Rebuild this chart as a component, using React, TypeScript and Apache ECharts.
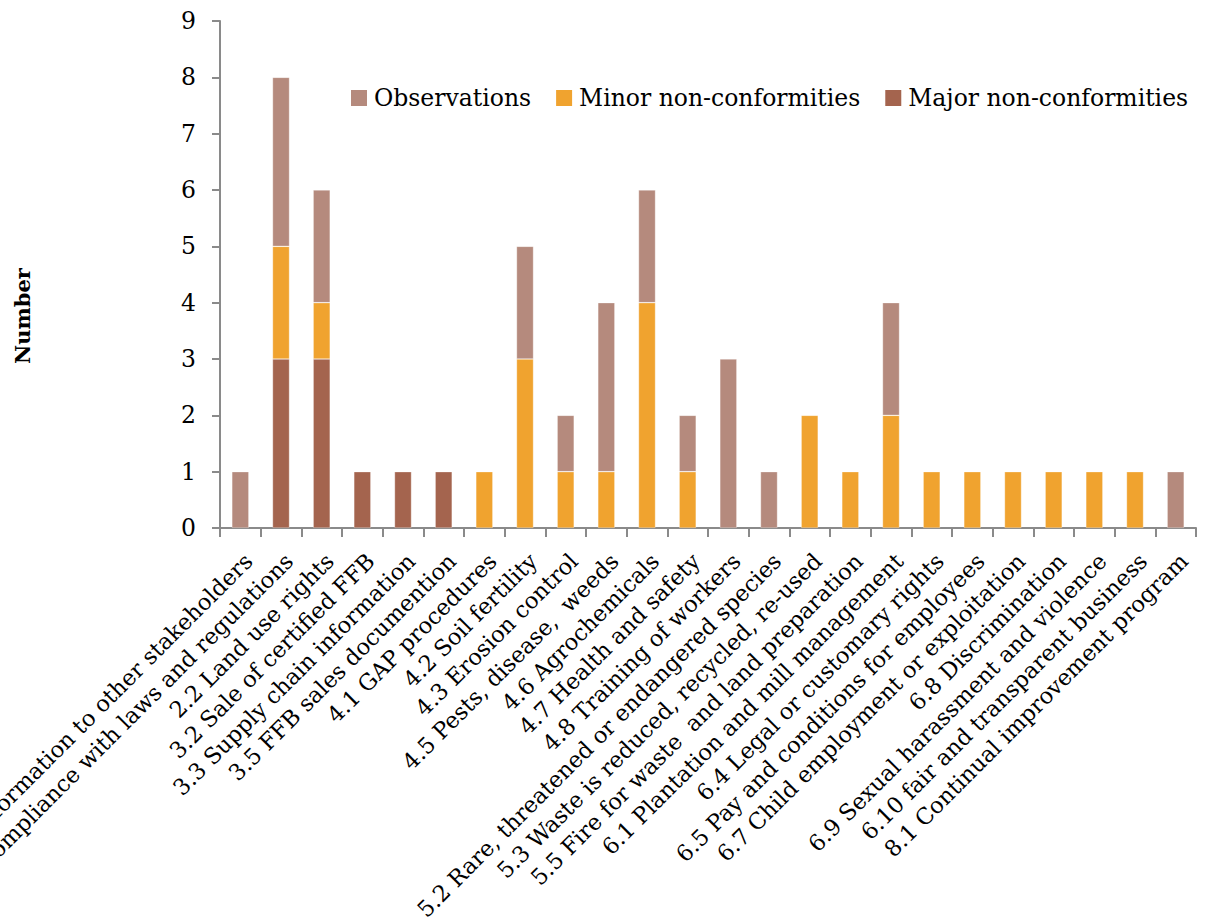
import React, { useEffect, useRef } from "react";
import * as echarts from "echarts";

const categories = [
  "1.1 Information to other stakeholders",
  "2.1 Compliance with laws and regulations",
  "2.2 Land use rights",
  "3.2 Sale of certified FFB",
  "3.3 Supply chain information",
  "3.5 FFB sales documention",
  "4.1 GAP procedures",
  "4.2 Soil fertility",
  "4.3 Erosion control",
  "4.5 Pests, disease,  weeds",
  "4.6 Agrochemicals",
  "4.7 Health and safety",
  "4.8 Training of workers",
  "5.2 Rare, threatened or endangered species",
  "5.3 Waste is reduced, recycled, re-used",
  "5.5 Fire for waste  and land preparation",
  "6.1 Plantation and mill management",
  "6.4 Legal or customary rights",
  "6.5 Pay and conditions for employees",
  "6.7 Child employment or exploitation",
  "6.8 Discrimination",
  "6.9 Sexual harassment and violence",
  "6.10 fair and transparent business",
  "8.1 Continual improvement program",
];

const majorNC = [0, 3, 3, 1, 1, 1, 0, 0, 0, 0, 0, 0, 0, 0, 0, 0, 0, 0, 0, 0, 0, 0, 0, 0];
const minorNC = [0, 2, 1, 0, 0, 0, 1, 3, 1, 1, 4, 1, 0, 0, 2, 1, 2, 1, 1, 1, 1, 1, 1, 0];
const observations = [1, 3, 2, 0, 0, 0, 0, 2, 1, 3, 2, 1, 3, 1, 0, 0, 2, 0, 0, 0, 0, 0, 0, 1];

const yTicks = { min: 0, max: 9, interval: 1 };

const FONT = "'Palatino Linotype', 'Book Antiqua', Palatino, 'DejaVu Serif', serif";

export default function App() {
  const ref = useRef<HTMLDivElement>(null);
  useEffect(() => {
    if (!ref.current) return;
    const chart = echarts.init(ref.current, null, { renderer: "svg" });
    const axisColor = "#8a8a8a";
    const mk = (name: string, data: number[], color: string) => ({
      name,
      type: "bar",
      stack: "total",
      data: data.map((v) => (v === 0 ? null : v)),
      barWidth: 17,
      itemStyle: { color, borderColor: "rgba(255,255,255,0.5)", borderWidth: 0.6 },
    });
    chart.setOption({
      animation: false,
      textStyle: { fontFamily: FONT },
      grid: {
        left: 220,
        right: 14,
        top: 21,
        bottom: 395,
        containLabel: false,
        outerBoundsMode: "none",
      },
      legend: {
        left: 346,
        top: 81,
        itemWidth: 16,
        itemHeight: 16,
        itemGap: 25,
        icon: "rect",
        itemStyle: { borderWidth: 0 },
        data: ["Observations", "Minor non-conformities", "Major non-conformities"],
        textStyle: { fontFamily: FONT, fontSize: 23.5, color: "#000", padding: [0, 0, 0, 2] },
      },
      graphic: [
        {
          type: "text",
          x: 22,
          y: 316,
          rotation: Math.PI / 2,
          style: {
            text: "Number",
            font: "bold 21px " + FONT,
            fill: "#000",
            align: "center",
            verticalAlign: "middle",
          },
        },
      ],
      xAxis: {
        type: "category",
        data: categories,
        axisLine: { lineStyle: { color: axisColor, width: 2 } },
        axisTick: { show: true, alignWithLabel: false, length: 9, lineStyle: { color: axisColor, width: 2 } },
        axisLabel: {
          interval: 0,
          rotate: 45,
          margin: 21,
          verticalAlign: "top",
          fontFamily: FONT,
          fontSize: 22.5,
          color: "#000",
        },
      },
      yAxis: {
        type: "value",
        min: yTicks.min,
        max: yTicks.max,
        interval: yTicks.interval,
        splitLine: { show: false },
        axisLine: { show: true, lineStyle: { color: axisColor, width: 2 } },
        axisTick: { show: true, length: 8, lineStyle: { color: axisColor, width: 2 } },
        axisLabel: { margin: 24, fontFamily: FONT, fontSize: 23.5, color: "#000" },
      },
      series: [
        mk("Major non-conformities", majorNC, "#a4644e"),
        mk("Minor non-conformities", minorNC, "#f0a32f"),
        mk("Observations", observations, "#b58a7d"),
      ],
    });
    return () => chart.dispose();
  }, []);
  return (
    <div
      ref={ref}
      style={{ position: "fixed", left: 0, top: 0, width: 1210, height: 923, background: "#fff" }}
    />
  );
}
